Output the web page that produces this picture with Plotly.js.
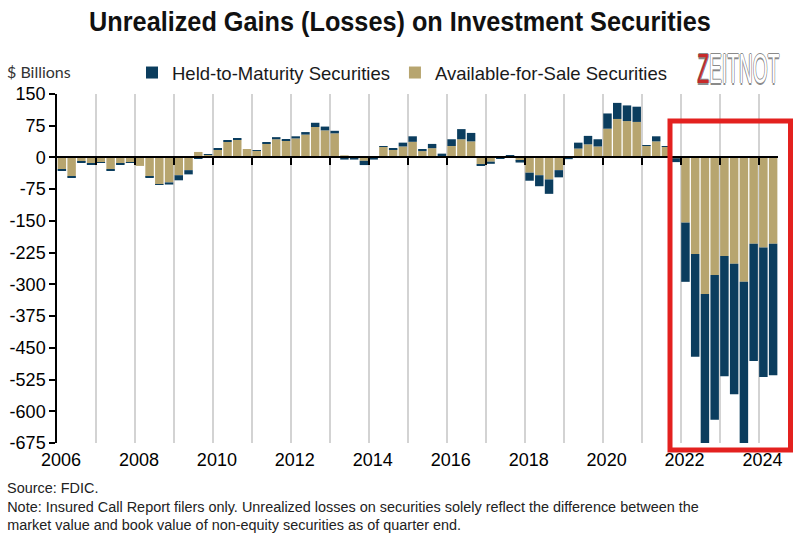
<!DOCTYPE html>
<html>
<head>
<meta charset="utf-8">
<script src="https://cdn.plot.ly/plotly-3.0.1.min.js"></script>
<style>
  html, body { margin: 0; padding: 0; background: #fff; }
  #chart { width: 800px; height: 546px; }
</style>
</head>
<body>
<div id="chart"></div>
<script>
// ---- Data (USD billions, quarter end) ----
const quarters = [
  "2006Q1","2006Q2","2006Q3","2006Q4","2007Q1","2007Q2","2007Q3","2007Q4",
  "2008Q1","2008Q2","2008Q3","2008Q4","2009Q1","2009Q2","2009Q3","2009Q4",
  "2010Q1","2010Q2","2010Q3","2010Q4","2011Q1","2011Q2","2011Q3","2011Q4",
  "2012Q1","2012Q2","2012Q3","2012Q4","2013Q1","2013Q2","2013Q3","2013Q4",
  "2014Q1","2014Q2","2014Q3","2014Q4","2015Q1","2015Q2","2015Q3","2015Q4",
  "2016Q1","2016Q2","2016Q3","2016Q4","2017Q1","2017Q2","2017Q3","2017Q4",
  "2018Q1","2018Q2","2018Q3","2018Q4","2019Q1","2019Q2","2019Q3","2019Q4",
  "2020Q1","2020Q2","2020Q3","2020Q4","2021Q1","2021Q2","2021Q3","2021Q4",
  "2022Q1","2022Q2","2022Q3","2022Q4","2023Q1","2023Q2","2023Q3","2023Q4",
  "2024Q1","2024Q2"
];
const availableForSale = [
  -28, -45, -10, -14, -12, -28, -15, -12,
  -20, -46, -64, -59, -42, -30, 13, 6,
  18, 37, 42, 20, 16, 33, 43, 41,
  45, 54, 72, 64, 57, 5, 3, -8,
  2, 25, 19, 26, 37, 15, 22, 3,
  27, 43, 38, -16, -10, -1, 3, -8,
  -36, -42, -52, -30, -1, 21, 31, 26,
  68, 91, 86, 84, 28, 38, 26, -2,
  -154, -228, -323, -278, -233, -251, -294, -204,
  -213, -204
];
const heldToMaturity = [
  -2, -2, -2, -3, -1, -2, -2, -1,
  0, -2, -1, -5, -12, -10, -3, 2,
  2, 2, 4, 0, 1, 3, 5, 2,
  5, 6, 10, 9, 6, -5, -5, -10,
  -5, 2, 1, 9, 13, 5, 10, 6,
  16, 24, 20, -4, -5, -2, 1, -4,
  -19, -26, -34, -17, -3, 14, 20, 17,
  36, 38, 37, 36, 1, 12, 1, -9,
  -140, -243, -354, -342, -284, -309, -383, -277,
  -306, -311
];
const yearTicks = [2006,2007,2008,2009,2010,2011,2012,2013,2014,2015,2016,2017,2018,2019,2020,2021,2022,2023,2024];
const yTicks = [150, 75, 0, -75, -150, -225, -300, -375, -450, -525, -600, -675];

// ---- Styling ----
const HTM_COLOR = "#0b3d5e";
const AFS_COLOR = "#b7a56f";
const FONT = "Liberation Sans, Arial, sans-serif";
const TITLE = "Unrealized Gains (Losses) on Investment Securities";
const NOTE1 = "Note: Insured Call Report filers only. Unrealized losses on securities solely reflect the difference between the";
const NOTE2 = "market value and book value of non-equity securities as of quarter end.";
const SOURCE = "Source: FDIC.";

// quarter label -> position on a numeric year axis (middle of the quarter)
const xPos = quarters.map(q => Number(q.slice(0, 4)) + (Number(q.slice(5)) - 0.5) / 4);
const yearText = yearTicks.map(y => (y % 2 === 0 ? String(y) : ""));

const traces = [
  { type: "bar", name: "Available-for-Sale Securities", x: xPos, y: availableForSale,
    marker: { color: AFS_COLOR }, hovertemplate: "%{y}<extra>AFS</extra>" },
  { type: "bar", name: "Held-to-Maturity Securities", x: xPos, y: heldToMaturity,
    marker: { color: HTM_COLOR }, hovertemplate: "%{y}<extra>HTM</extra>" },
  { type: "scatter", x: [], y: [], xaxis: "x2", showlegend: false, hoverinfo: "skip" }
];

const W = 800, H = 546, L = 57, R = 22, T = 94, B = 103;
const pw = W - L - R, ph = H - T - B;
const px = v => (v - L) / pw;          // pixel x -> paper x
const py = v => (H - B - v) / ph;      // pixel y -> paper y

const footFont = { family: FONT, size: 15.5, color: "#222" };

const layout = {
  width: W, height: H,
  margin: { l: L, r: R, t: T, b: B, pad: 0 },
  paper_bgcolor: "#fff", plot_bgcolor: "#fff",
  barmode: "relative", bargap: 0.13,
  font: { family: FONT, color: "#000" },
  title: {
    text: "<b>" + TITLE + "</b>",
    font: { family: FONT, size: 28, color: "#111" },
    x: 0.5, xref: "container", xanchor: "center",
    y: 1 - 21 / H, yref: "container", yanchor: "middle"
  },
  showlegend: true,
  legend: {
    orientation: "h", traceorder: "reversed",
    x: 132 / W, xref: "container", xanchor: "left",
    y: 1 - 73 / H, yref: "container", yanchor: "middle",
    font: { family: FONT, size: 18.5, color: "#1a1a1a" },
    itemwidth: 30, bgcolor: "rgba(0,0,0,0)"
  },
  xaxis: {
    range: [2006, 2024.5], tickvals: yearTicks, ticktext: yearText,
    showgrid: true, gridcolor: "#d3d3d3", gridwidth: 1.5,
    ticks: "", showline: false, zeroline: false,
    tickfont: { family: FONT, size: 18, color: "#000" },
    ticklabelstandoff: 4, ticklabelshift: 4
  },
  xaxis2: {
    overlaying: "x", anchor: "free", position: 675 / 825, side: "bottom",
    range: [2006, 2024.5], tickvals: yearTicks.slice(1),
    ticks: "outside", ticklen: 7, tickwidth: 1.5, tickcolor: "#000",
    showline: true, linecolor: "#000", linewidth: 1.5,
    showticklabels: false, showgrid: false, zeroline: false
  },
  yaxis: {
    range: [-675, 150], tickvals: yTicks, ticktext: yTicks.map(String),
    ticks: "outside", ticklen: 6, tickwidth: 1.5, tickcolor: "#000",
    showline: true, linecolor: "#000", linewidth: 1.5,
    showgrid: false, zeroline: false,
    tickfont: { family: FONT, size: 18, color: "#000" }
  },
  shapes: [
    { type: "rect", xref: "paper", yref: "paper",
      x0: px(670), x1: px(790.5), y0: py(450), y1: py(121),
      line: { color: "#e3211f", width: 5 }, fillcolor: "rgba(0,0,0,0)" }
  ],
  annotations: [
    { text: "$ Billions", xref: "paper", yref: "paper", x: px(5), y: py(72),
      xanchor: "left", yanchor: "middle", showarrow: false,
      font: { family: "Lato, Liberation Sans, sans-serif", size: 16, color: "#333" } },
    { text: SOURCE, xref: "paper", yref: "paper", x: px(5), y: py(487),
      xanchor: "left", yanchor: "middle", showarrow: false, font: footFont },
    { text: NOTE1, xref: "paper", yref: "paper", x: px(5), y: py(506),
      xanchor: "left", yanchor: "middle", showarrow: false, font: footFont },
    { text: NOTE2, xref: "paper", yref: "paper", x: px(5), y: py(524),
      xanchor: "left", yanchor: "middle", showarrow: false, font: footFont },
    { text: "<span style='color:#c62a2a'>Z</span>EITNOT", xref: "paper", yref: "paper",
      x: px(738), y: py(69), xanchor: "center", yanchor: "middle", showarrow: false,
      font: { family: FONT, size: 24, color: "#ffffff",
              shadow: "1px 0 0 #8a8a8a, -1px 0 0 #8a8a8a, 0 1px 0 #8a8a8a, 0 -1px 0 #8a8a8a" } }
  ]
};

function squeeze(el, sx, sy, anchor) {
  const bb = el.getBBox();
  const ax = anchor === "left" ? bb.x : bb.x + bb.width / 2;
  const ay = bb.y + bb.height / 2;
  el.setAttribute("transform", `translate(${ax},${ay}) scale(${sx},${sy}) translate(${-ax},${-ay})`);
}

Plotly.newPlot("chart", traces, layout, { displayModeBar: false, responsive: false }).then(() => {
  // condensed typefaces of the original: narrow the wide texts to the original widths
  const title = document.querySelector(".gtitle");
  if (title) { const w = title.getBBox().width; squeeze(title, 622 / w, 1, "center"); }
  let footScale = 1;
  document.querySelectorAll(".annotation-text").forEach(t => {
    if (t.textContent === NOTE1) footScale = 692 / t.getBBox().width;
  });
  document.querySelectorAll(".annotation-text").forEach(t => {
    const s = t.textContent;
    if (s === NOTE1 || s === NOTE2 || s === SOURCE) squeeze(t, footScale, 1, "left");
    if (s === "ZEITNOT") squeeze(t, 0.8, 1.75, "center");
  });
});
</script>
</body>
</html>
